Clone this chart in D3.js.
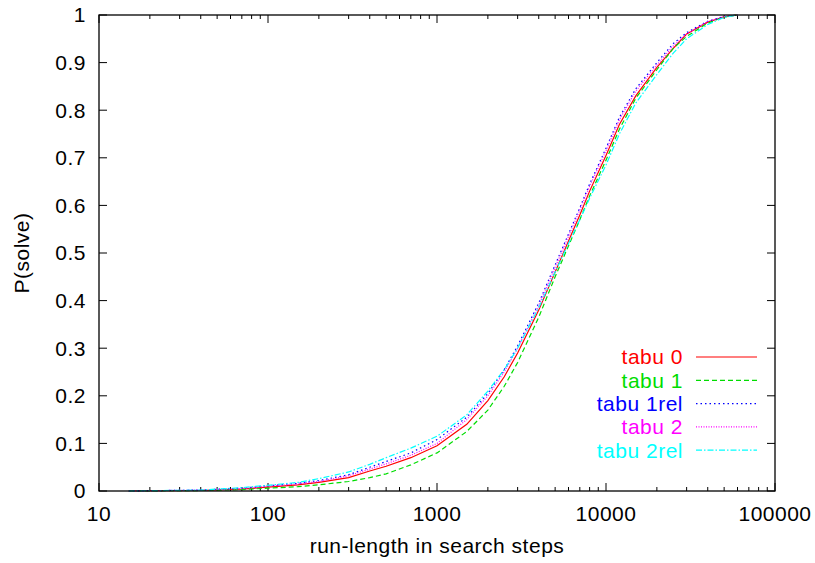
<!DOCTYPE html>
<html>
<head>
<meta charset="utf-8">
<title>run-length distribution</title>
<script src="https://cdn.jsdelivr.net/npm/d3@7"></script>
<style>
body { margin: 0; background: #fff; }
text { font-family: "Liberation Sans", Arial, sans-serif; font-size: 21px; letter-spacing: 0.5px; fill: #000; }
.frame { fill: none; stroke: #000; stroke-width: 1.3px; }
.tick line { stroke: #000; }
path.curve { fill: none; stroke-width: 1.2px; }
</style>
</head>
<body>
<script>
// series names and colours
var names = ["tabu 0", "tabu 1", "tabu 1rel", "tabu 2", "tabu 2rel"];
var colors = ["#ff0000", "#00dd00", "#0000ff", "#ff00ff", "#00ffff"];
var dashes = ["none", "5 3", "1.5 3", "1 1.5", "6 2 1.5 2"];

// [steps, P(solve)]
var tabu0 = [[15,0],[40,0.001],[70,0.004],[100,0.008],[150,0.013],[200,0.018],[300,0.028],[400,0.042],[500,0.052],[700,0.07],[1000,0.095],[1500,0.14],[2000,0.19],[2500,0.24],[3000,0.29],[4000,0.38],[5000,0.46],[6000,0.525],[7000,0.58],[8000,0.63],[10000,0.705],[12000,0.77],[15000,0.83],[20000,0.89],[25000,0.93],[30000,0.96],[40000,0.985],[50000,0.996],[60000,1]];
var tabu1 = [[15,0],[40,0.001],[70,0.003],[100,0.006],[150,0.009],[200,0.013],[300,0.02],[400,0.028],[500,0.036],[700,0.055],[1000,0.08],[1500,0.125],[2000,0.17],[2500,0.22],[3000,0.27],[4000,0.365],[5000,0.45],[6000,0.515],[7000,0.57],[8000,0.62],[10000,0.695],[12000,0.76],[15000,0.825],[20000,0.885],[25000,0.93],[30000,0.955],[40000,0.983],[50000,0.996],[60000,1]];
var tabu1rel = [[15,0],[40,0.002],[70,0.006],[100,0.011],[150,0.016],[200,0.022],[300,0.034],[400,0.05],[500,0.062],[700,0.08],[1000,0.108],[1500,0.155],[2000,0.205],[2500,0.255],[3000,0.305],[4000,0.395],[5000,0.475],[6000,0.54],[7000,0.595],[8000,0.645],[10000,0.72],[12000,0.785],[15000,0.845],[20000,0.9],[25000,0.94],[30000,0.963],[40000,0.987],[50000,0.997],[60000,1]];
var tabu2 = [[15,0],[40,0.002],[70,0.005],[100,0.01],[150,0.015],[200,0.02],[300,0.032],[400,0.046],[500,0.057],[700,0.075],[1000,0.1],[1500,0.15],[2000,0.2],[2500,0.25],[3000,0.3],[4000,0.39],[5000,0.47],[6000,0.535],[7000,0.59],[8000,0.64],[10000,0.715],[12000,0.78],[15000,0.84],[20000,0.895],[25000,0.935],[30000,0.96],[40000,0.986],[50000,0.997],[60000,1]];
var tabu2rel = [[15,0],[40,0.002],[70,0.007],[100,0.012],[150,0.018],[200,0.026],[300,0.04],[400,0.056],[500,0.07],[700,0.09],[1000,0.115],[1500,0.16],[2000,0.21],[2500,0.255],[3000,0.3],[4000,0.385],[5000,0.46],[6000,0.52],[7000,0.57],[8000,0.615],[10000,0.685],[12000,0.75],[15000,0.815],[20000,0.875],[25000,0.92],[30000,0.95],[40000,0.98],[50000,0.995],[60000,1]];
var series = [tabu0, tabu1, tabu1rel, tabu2, tabu2rel];

var xTicks = [10, 100, 1000, 10000, 100000];
var yTicks = [0, 0.1, 0.2, 0.3, 0.4, 0.5, 0.6, 0.7, 0.8, 0.9, 1];

var width = 815, height = 563;
var plotL = 99, plotR = 775, plotT = 15, plotB = 491;

var x = d3.scaleLog().domain([10, 100000]).range([plotL, plotR]);
var y = d3.scaleLinear().domain([0, 1]).range([plotB, plotT]);

var svg = d3.select("body").append("svg")
    .attr("width", width)
    .attr("height", height);

// minor ticks for log axis
var minor = [];
for (var p = 10; p < 100000; p *= 10) {
  for (var k = 2; k < 10; k++) minor.push(p * k);
}

// ticks pointing inward on all sides
var ticks = svg.append("g").attr("class", "tick");
xTicks.forEach(function(v) {
  ticks.append("line").attr("x1", x(v)).attr("x2", x(v)).attr("y1", plotB).attr("y2", plotB - 8);
  ticks.append("line").attr("x1", x(v)).attr("x2", x(v)).attr("y1", plotT).attr("y2", plotT + 8);
});
minor.forEach(function(v) {
  ticks.append("line").attr("x1", x(v)).attr("x2", x(v)).attr("y1", plotB).attr("y2", plotB - 4);
  ticks.append("line").attr("x1", x(v)).attr("x2", x(v)).attr("y1", plotT).attr("y2", plotT + 4);
});
yTicks.forEach(function(v) {
  ticks.append("line").attr("x1", plotL).attr("x2", plotL + 8).attr("y1", y(v)).attr("y2", y(v));
  ticks.append("line").attr("x1", plotR).attr("x2", plotR - 8).attr("y1", y(v)).attr("y2", y(v));
});

// tick labels
svg.append("g").selectAll("text")
    .data(xTicks)
    .enter().append("text")
    .attr("x", function(d) { return x(d); })
    .attr("y", 521)
    .attr("text-anchor", "middle")
    .text(function(d) { return d; });

svg.append("g").selectAll("text")
    .data(yTicks)
    .enter().append("text")
    .attr("x", 86)
    .attr("y", function(d) { return y(d); })
    .attr("dy", "0.35em")
    .attr("text-anchor", "end")
    .text(function(d) { return d; });

// axis titles
svg.append("text")
    .attr("x", (plotL + plotR) / 2)
    .attr("y", 553)
    .attr("text-anchor", "middle")
    .text("run-length in search steps");

svg.append("text")
    .attr("transform", "translate(29," + ((plotT + plotB) / 2) + ") rotate(-90)")
    .attr("text-anchor", "middle")
    .text("P(solve)");

// curves
var line = d3.line()
    .x(function(d) { return x(d[0]); })
    .y(function(d) { return y(d[1]); });

svg.append("g").selectAll("path")
    .data(series)
    .enter().append("path")
    .attr("class", "curve")
    .attr("d", line)
    .style("stroke", function(d, i) { return colors[i]; })
    .style("stroke-dasharray", function(d, i) { return dashes[i]; });

// legend
var legend = svg.append("g").selectAll("g")
    .data(names)
    .enter().append("g")
    .attr("transform", function(d, i) { return "translate(0," + (357 + i * 23.3) + ")"; });

legend.append("text")
    .attr("x", 683)
    .attr("dy", "0.35em")
    .attr("text-anchor", "end")
    .style("fill", function(d, i) { return colors[i]; })
    .text(function(d) { return d; });

legend.append("line")
    .attr("x1", 696).attr("x2", 757)
    .attr("y1", 0).attr("y2", 0)
    .style("stroke", function(d, i) { return colors[i]; })
    .style("stroke-width", 1.2)
    .style("stroke-dasharray", function(d, i) { return dashes[i]; });

// frame
svg.append("rect")
    .attr("class", "frame")
    .attr("x", plotL).attr("y", plotT)
    .attr("width", plotR - plotL).attr("height", plotB - plotT);
</script>
</body>
</html>
